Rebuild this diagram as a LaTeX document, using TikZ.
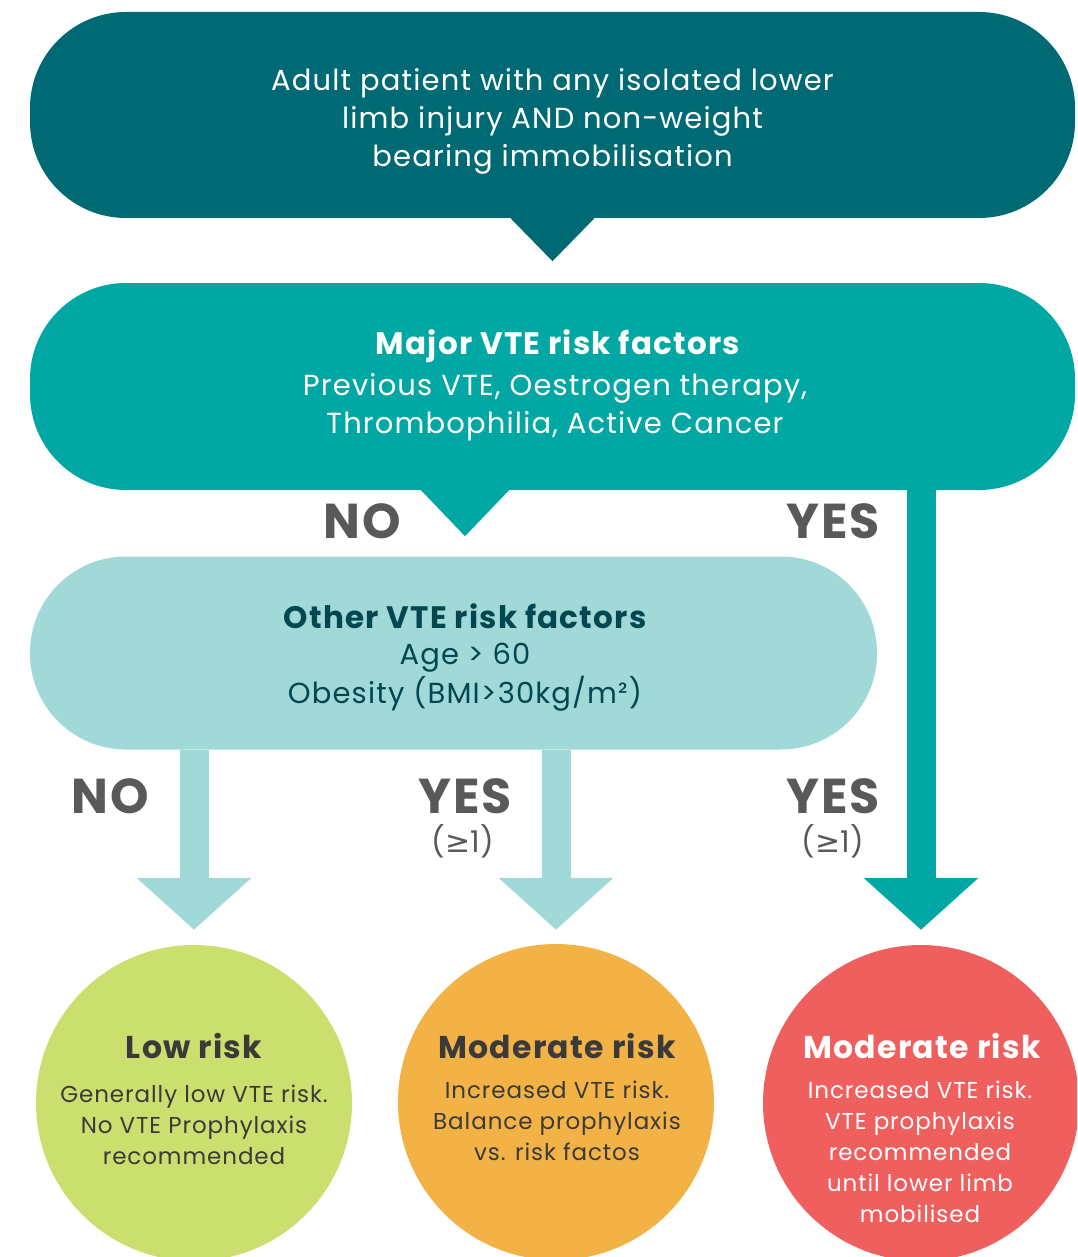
\documentclass[tikz,border=0pt]{standalone}
\usepackage{fontspec}
\setmainfont{Poppins}[LetterSpace=4]
\newfontfamily\symfont{DejaVu Sans}
\usetikzlibrary{arrows.meta,calc}
\definecolor{topcol}{HTML}{006A74}
\definecolor{midcol}{HTML}{00A7A3}
\definecolor{lowcol}{HTML}{A1D9D9}
\definecolor{darktxt}{HTML}{00474F}
\definecolor{graytxt}{HTML}{58595B}
\definecolor{circtxt}{HTML}{3A3A3A}
\definecolor{greencol}{HTML}{CBDF6E}
\definecolor{orangecol}{HTML}{F2B245}
\definecolor{redcol}{HTML}{EF5F5E}
\begin{document}
\begin{tikzpicture}[x=1pt,y=-1pt,
  pill/.style={rectangle,rounded corners=96pt,inner sep=0pt,align=center},
  lab/.style={font=\fontsize{49}{49}\selectfont\bfseries,text=graytxt,inner sep=0pt},
  sublab/.style={font=\fontsize{30}{30}\selectfont,text=graytxt,inner sep=0pt},
  riskcirc/.style={circle,minimum size=316pt,inner sep=0pt},
  blockarrow/.style={line width=29pt,-{Triangle[width=112pt,length=52pt]}},
  circhead/.style={font=\fontsize{31.5}{32}\selectfont\bfseries,inner sep=0pt},
  circbody/.style={align=center,font=\fontsize{23}{31}\selectfont,inner sep=0pt},
]
\useasboundingbox (0,0) rectangle (1077,1257);
% boxes
\node[pill,fill=topcol,minimum width=1045pt,minimum height=206pt] (top) at (552.5,115) {};
\node[pill,fill=midcol,minimum width=1045pt,minimum height=207pt] (major) at (552.5,386.5) {};
\node[pill,fill=lowcol,minimum width=847pt,minimum height=193pt] (other) at (453.5,653) {};
% pointers
\fill[topcol] ([xshift=-43pt,yshift=1pt]top.south) -- ([xshift=43pt,yshift=1pt]top.south) -- ([yshift=-43pt]top.south) -- cycle;
\coordinate (p2) at (major.south -| 465,0);
\fill[midcol] ([xshift=-45pt,yshift=1pt]p2) -- ([xshift=45pt,yshift=1pt]p2) -- ([yshift=-46pt]p2) -- cycle;
% circles
\begin{scope}
\clip (0,0) rectangle (1077,1257);
\node[riskcirc,fill=greencol] (low) at (194,1103) {};
\node[riskcirc,fill=orangecol] (modA) at (556,1102) {};
\node[riskcirc,fill=redcol] (modB) at (921,1103) {};
\end{scope}
% arrows
\draw[blockarrow,draw=lowcol,fill=lowcol] (other.south -| low.north) -- ([yshift=15pt]low.north);
\draw[blockarrow,draw=lowcol,fill=lowcol] (other.south -| modA.north) -- ([yshift=14pt]modA.north);
\draw[blockarrow,draw=midcol,fill=midcol] (major.south -| modB.north) -- ([yshift=15pt]modB.north);
% texts
\node[align=center,text=white,font=\fontsize{29}{38}\selectfont,inner sep=0pt] (toptxt) at (552.5,121) {Adult patient with any isolated lower\\limb injury AND non-weight\\bearing immobilisation};
\node[align=center,text=white,font=\fontsize{31}{39}\selectfont\bfseries,inner sep=0pt] (majhead) at (558,346) {Major VTE risk factors};
\node[align=center,text=white,font=\fontsize{29}{38.5}\selectfont,inner sep=0pt] (majbody) at (555,407) {Previous VTE, Oestrogen therapy,\\Thrombophilia, Active Cancer};
\node[align=center,text=darktxt,font=\fontsize{31}{39}\selectfont\bfseries,inner sep=0pt] (othhead) at (465,616) {Other VTE risk factors};
\node[align=center,text=darktxt,font=\fontsize{29}{38.5}\selectfont,inner sep=0pt] (othbody) at (465,677) {Age > 60\\Obesity (BMI>30kg/m²)};
% labels
\node[lab] (no1) at (362,521) {NO};
\node[lab] (yes1) at (833,521) {YES};
\node[lab] (no2) at (110,796) {NO};
\node[lab] (yes2) at (465,796) {YES};
\node[sublab] (ge2) at (463,841) {({\symfont ≥}1)};
\node[lab] (yes3) at (833,796) {YES};
\node[sublab] (ge3) at (833,841) {({\symfont ≥}1)};
% circle texts
\node[circhead,text=circtxt] (lowhead) at (194,1046) {Low risk};
\node[circbody,text=circtxt] (lowbody) at (194,1125) {Generally low VTE risk.\\No VTE Prophylaxis\\recommended};
\node[circhead,text=circtxt] (modAhead) at (557,1046) {Moderate risk};
\node[circbody,text=circtxt] (modAbody) at (557,1121) {Increased VTE risk.\\Balance prophylaxis\\vs. risk factos};
\node[circhead,text=white] (modBhead) at (922,1046) {Moderate risk};
\node[circbody,text=white] (modBbody) at (920,1152) {Increased VTE risk.\\VTE prophylaxis\\recommended\\until lower limb\\mobilised};
\end{tikzpicture}
\end{document}
